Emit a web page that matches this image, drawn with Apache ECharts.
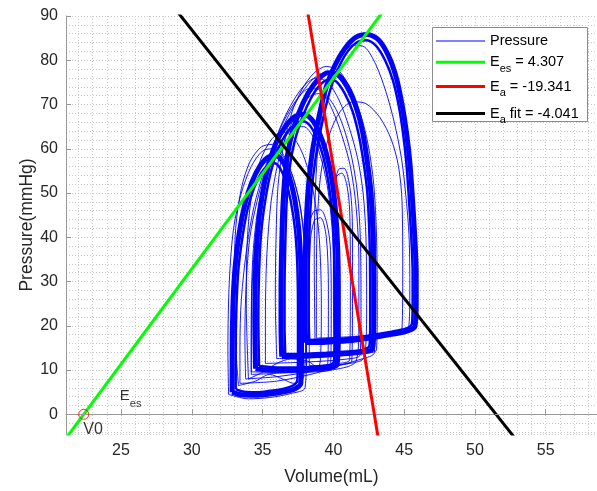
<!DOCTYPE html>
<html><head><meta charset="utf-8">
<script src="https://cdn.jsdelivr.net/npm/echarts@6/dist/echarts.min.js"></script>
<style>html,body{margin:0;padding:0;background:#fff}#c{width:597px;height:491px}</style>
</head><body><div id="c"></div>
<script>
// ---- axis settings ----
const xMin = 21.115, xMax = 58.62;
const yMin = -4.45, yMax = 90;
const xTickLabels = [25, 30, 35, 40, 45, 50, 55];
const yTickLabels = [0, 10, 20, 30, 40, 50, 60, 70, 80, 90];

// ---- main (dense) PV-loop bundles: [Volume mL, Pressure mmHg] ----
const loopF1 = [[38.05,16.2],[39.5,16.3],[41.0,16.6],[42.5,17.2],[44.0,18.0],[45.2,18.8],[45.75,19.8],[45.85,25],[45.85,32],[45.75,40],[45.6,48],[45.4,57],[45.15,64],[44.85,70],[44.45,76],[43.9,81],[43.2,84.6],[42.4,85.8],[41.6,85.2],[40.8,82.6],[40.1,78.8],[39.5,74],[39.0,67.5],[38.5,59],[38.2,50],[38.05,40],[38.0,30],[38.0,22],[38.05,16.2]];
const loopF2 = [[36.35,13.0],[37.5,13.1],[39.0,13.3],[40.5,13.6],[41.8,14.0],[42.75,14.8],[42.85,20],[42.85,30],[42.8,40],[42.65,50],[42.4,57],[42.05,64],[41.6,69.5],[41.0,74],[40.3,76.8],[39.6,77.2],[38.9,75.6],[38.2,72.5],[37.55,68],[37.0,62.5],[36.65,56],[36.45,48],[36.35,38],[36.3,28],[36.3,20],[36.35,13.0]];
const loopF3 = [[34.5,10.3],[35.5,10.0],[37.0,10.0],[38.5,10.2],[39.6,10.5],[40.25,11.2],[40.35,18],[40.35,28],[40.3,38],[40.15,46],[39.9,53],[39.5,59],[39.0,63.7],[38.45,66.7],[37.85,67.8],[37.25,67.2],[36.6,65],[35.95,61.3],[35.4,56],[34.95,49],[34.65,41],[34.5,32],[34.45,22],[34.5,10.3]];
const loopF4 = [[32.85,5.0],[33.5,4.4],[34.5,4.3],[35.5,4.6],[36.5,5.1],[37.3,5.8],[37.7,7.0],[37.75,14],[37.75,24],[37.7,34],[37.55,42],[37.25,49],[36.85,54],[36.4,57.2],[35.9,58.4],[35.35,58.0],[34.8,56],[34.25,52.5],[33.75,47.5],[33.35,41],[33.05,33],[32.9,24],[32.85,14],[32.85,5.0]];
// inner edges of the same bundles
const loopF1i = [[38.3,16.8],[41.0,17.2],[42.5,17.8],[44.0,18.6],[45.15,19.4],[45.55,20.5],[45.6,25],[45.6,32],[45.5,40],[45.35,48],[45.15,57],[44.9,64],[44.6,70],[44.2,75.5],[43.65,80],[43.0,83.3],[42.3,84.5],[41.6,83.9],[40.9,81.5],[40.3,77.8],[39.75,73],[39.25,66.5],[38.75,58],[38.45,50],[38.3,40],[38.25,30],[38.25,22],[38.3,16.8]];
const loopF2i = [[36.6,13.6],[38.0,13.7],[39.5,13.9],[41.0,14.2],[42.1,14.6],[42.55,15.5],[42.6,20],[42.6,30],[42.55,40],[42.4,50],[42.15,56.5],[41.8,63],[41.35,68.5],[40.8,72.5],[40.2,75.2],[39.6,75.6],[39.0,74.2],[38.4,71.3],[37.8,67],[37.25,61.5],[36.9,55.5],[36.7,48],[36.6,38],[36.55,28],[36.55,20],[36.6,13.6]];
const loopF3i = [[34.75,10.9],[36.0,10.6],[37.5,10.6],[38.8,10.8],[39.8,11.2],[40.05,12],[40.1,18],[40.1,28],[40.05,38],[39.9,46],[39.65,52.5],[39.3,58],[38.85,62.3],[38.35,65.2],[37.85,66.2],[37.3,65.6],[36.7,63.6],[36.1,60],[35.6,55],[35.2,48.5],[34.9,41],[34.75,32],[34.7,22],[34.75,10.9]];
const loopF4i = [[33.1,5.7],[33.7,5.1],[34.6,5.0],[35.5,5.3],[36.5,5.8],[37.15,6.5],[37.45,7.6],[37.5,14],[37.5,24],[37.45,34],[37.3,41.5],[37.0,48],[36.65,52.5],[36.25,55.5],[35.85,56.7],[35.4,56.3],[34.9,54.5],[34.4,51.2],[33.95,46.5],[33.6,40.5],[33.3,33],[33.15,24],[33.1,14],[33.1,5.7]];

// ---- sparse (thin) loops ----
const loopT1 = [[38.7,16.8],[41.0,17.2],[43.5,18.2],[45.3,19.3],[45.4,28],[45.35,40],[45.1,50],[44.8,58],[44.3,66],[43.7,73],[43.0,79],[42.2,83.0],[41.4,83.4],[40.6,81.2],[39.9,77],[39.3,70],[38.9,60],[38.7,48],[38.65,35],[38.7,16.8]];
const loopT2 = [[38.8,17.2],[41.5,17.6],[44.0,18.4],[44.85,19.5],[44.9,32],[44.85,48],[44.6,56],[44.1,62],[43.3,67],[42.3,70.2],[41.4,70.6],[40.5,68.5],[39.7,63],[39.1,54],[38.85,42],[38.8,28],[38.8,17.2]];
const loopT3 = [[40.1,11.0],[40.8,11.3],[41.3,12.0],[41.35,25],[41.35,40],[41.3,47],[41.1,52.5],[40.75,55.6],[40.35,55.3],[40.1,51],[40.0,42],[40.0,28],[40.1,11.0]];
const loopT3b = [[40.2,11.5],[41.15,12.3],[41.2,30],[41.15,46],[40.95,51.8],[40.6,54.5],[40.25,53.8],[40.1,49],[40.05,35],[40.2,11.5]];
const loopT4 = [[38.1,10.5],[39.0,10.6],[39.8,11.0],[39.85,25],[39.8,37],[39.55,43],[39.1,46.2],[38.6,45.8],[38.25,42],[38.1,33],[38.05,20],[38.1,10.5]];
const loopT4b = [[38.3,11],[39.6,11.3],[39.65,28],[39.5,40],[39.1,44.4],[38.65,43.8],[38.35,38],[38.3,25],[38.3,11]];
const loopT5 = [[36.0,12.6],[39.0,12.9],[42.0,13.8],[43.05,14.6],[43.1,25],[43.05,40],[42.85,52],[42.45,61],[41.9,68],[41.2,73.5],[40.4,77.6],[39.5,78.6],[38.6,77],[37.8,73.5],[37.1,68.5],[36.5,61],[36.1,52],[35.95,40],[35.9,26],[36.0,12.6]];
const loopT6 = [[34.2,9.6],[37.0,9.4],[39.5,9.8],[40.0,10.5],[40.05,25],[39.95,40],[39.65,50],[39.2,57],[38.6,62.5],[37.9,65],[37.2,64.6],[36.4,62],[35.6,57],[35.0,50],[34.5,40],[34.25,28],[34.2,15],[34.2,9.6]];
const loopT7 = [[32.6,4.5],[34.0,3.5],[35.5,3.8],[37.0,4.7],[38.0,6.0],[38.1,15],[38.1,30],[37.95,40],[37.6,48],[37.1,54],[36.4,58.5],[35.7,60],[35.0,59.5],[34.2,56],[33.5,50],[32.95,42],[32.65,30],[32.55,15],[32.6,4.5]];
const loopT9 = [[35.2,11.5],[38.0,11.8],[41.0,12.5],[41.9,13.5],[41.95,25],[41.9,40],[41.7,50],[41.3,58],[40.7,65],[40.0,70],[39.2,72.5],[38.4,72.0],[37.6,69],[36.8,64],[36.1,57],[35.6,48],[35.3,36],[35.2,22],[35.2,11.5]];
const loopT10 = [[33.3,6.5],[34.5,7.5],[35.5,9.0],[36.4,8.0],[37.2,7.0],[37.9,8.5],[38.05,20],[38.0,35],[37.7,46],[37.2,53],[36.5,58.5],[35.7,61],[34.9,60.4],[34.1,57],[33.5,51],[33.1,42],[33.0,28],[33.1,15],[33.3,6.5]];
const loopT11 = [[34.0,8.0],[35.0,9.5],[36.0,11.5],[37.0,12.5],[38.2,12.0],[38.9,10.5],[39.1,13],[39.15,25],[39.0,40],[38.6,50],[38.0,57.5],[37.2,62.5],[36.4,63.8],[35.6,62],[34.8,57],[34.2,49],[33.9,38],[33.85,25],[34.0,8.0]];
const loopT16 = [[33.8,8],[36,8.5],[39,10],[42,12.5],[42.9,14],[43.0,30],[42.9,45],[42.6,55],[42.1,63],[41.4,70],[40.6,75],[39.8,77.2],[39.0,76.8],[38.2,74.5],[37.4,70.8],[36.6,66],[35.9,61],[35.2,55],[34.6,48],[34.1,40],[33.85,30],[33.75,18],[33.8,8]];
const loopT17 = [[34.2,9],[37,9.5],[40,11],[42.2,13],[42.35,25],[42.3,40],[42.1,50],[41.7,58],[41.1,65],[40.4,71],[39.6,75],[38.8,76],[38.0,74.5],[37.2,71],[36.4,66],[35.7,60],[35.1,53],[34.6,45],[34.3,35],[34.2,22],[34.2,9]];
const loopT18 = [[33.4,7],[36,7.5],[39,9.5],[41.6,12],[41.8,20],[41.8,35],[41.6,47],[41.2,56],[40.6,63],[39.9,69],[39.1,73.2],[38.3,73.6],[37.5,71.5],[36.7,67.5],[35.9,62],[35.1,55],[34.4,47],[33.9,38],[33.5,26],[33.4,15],[33.4,7]];

// ---- fitted lines (end points) ----
const eesLine = [[21.0,-5.9],[43.5,91.0]];
const eaLine = [[38.13,92.0],[43.2,-6.0]];
const eaFitLine = [[29.0,90.9],[53.0,-6.1]];
const v0Point = [[22.37, 0]];
const eesLabelPoint = [[24.95, 4.0]];

const legendNames = {
  'Pressure': '{m|Pressure}',
  'Ees': '{m|E}{s|es}{m| = 4.307}',
  'Ea': '{m|E}{s|a}{m| = -19.341}',
  'EaFit': '{m|E}{s|a}{m| fit = -4.041}'
};

const FONT = '"Liberation Sans", Arial, Helvetica, sans-serif';
const BLUE = '#0000ff';

const thinLoops = [loopT1, loopT2, loopT3, loopT3b, loopT4, loopT4b, loopT5, loopT6, loopT7, loopT9, loopT10, loopT11, loopT16, loopT17, loopT18];
const mainLoops = [loopF1, loopF2, loopF3, loopF4];
const innerLoops = [loopF1i, loopF2i, loopF3i, loopF4i];

const series = [];
thinLoops.forEach(l => series.push({
  name: 'Pressure', type: 'line', data: l, symbol: 'none', smooth: 0.3,
  lineStyle: {color: BLUE, width: 0.9}, itemStyle: {color: BLUE}, silent: true
}));
innerLoops.forEach(l => series.push({
  name: 'Pressure', type: 'line', data: l, symbol: 'none', smooth: 0.3,
  lineStyle: {color: BLUE, width: 2.5}, itemStyle: {color: BLUE}, silent: true
}));
mainLoops.forEach(l => series.push({
  name: 'Pressure', type: 'line', data: l, symbol: 'none', smooth: 0.3,
  lineStyle: {color: BLUE, width: 5}, itemStyle: {color: BLUE}, silent: true
}));
series.push({
  name: 'Ees', type: 'line', data: eesLine, symbol: 'none',
  lineStyle: {color: '#00ff00', width: 3}, itemStyle: {color: '#00ff00'}, silent: true,
  markLine: {silent: true, symbol: 'none', label: {show: false},
    lineStyle: {color: '#9a9a9a', width: 1, type: [8, 5]}, data: [{yAxis: 0}]}
});
series.push({
  name: 'Ea', type: 'line', data: eaLine, symbol: 'none',
  lineStyle: {color: '#ff0000', width: 3}, itemStyle: {color: '#ff0000'}, silent: true
});
series.push({
  name: 'EaFit', type: 'line', data: eaFitLine, symbol: 'none',
  lineStyle: {color: '#000000', width: 3}, itemStyle: {color: '#000000'}, silent: true
});
series.push({
  name: 'V0', type: 'scatter', data: v0Point, symbol: 'circle', symbolSize: 10,
  itemStyle: {color: 'rgba(0,0,0,0)', borderColor: '#ff0000', borderWidth: 1}, silent: true, z: 5,
  label: {show: true, formatter: 'V0', position: [5, 13], align: 'left', verticalAlign: 'top',
    fontSize: 16, color: '#000', fontFamily: FONT}
});
series.push({
  name: 'EesLabel', type: 'scatter', data: eesLabelPoint, symbolSize: 1,
  itemStyle: {color: 'rgba(0,0,0,0)'}, silent: true,
  label: {show: true, position: [0, 0], align: 'left', verticalAlign: 'middle',
    formatter: '{m|E}{s|es}', rich: {
      m: {fontSize: 15, lineHeight: 26, color: '#000', fontFamily: FONT},
      s: {fontSize: 11, lineHeight: 11, verticalAlign: 'bottom', color: '#000', fontFamily: FONT}
    }}
});

const richLegend = {
  m: {fontSize: 14.5, lineHeight: 24, color: '#000', fontFamily: FONT},
  s: {fontSize: 11, lineHeight: 10, verticalAlign: 'bottom', color: '#000', fontFamily: FONT}
};
function mkLegend(name, top, h) {
  return {
    data: [name], left: 436, top: top, orient: 'vertical', itemWidth: 49, itemHeight: h,
    icon: 'rect', padding: 0, selectedMode: false,
    formatter: n => legendNames[n], textStyle: {rich: richLegend}, z: 20
  };
}

const gridLine = {show: true, lineStyle: {color: '#c8c8c8', width: 1, type: [1, 2]}};
const axisCol = '#999999';

const option = {
  animation: false,
  backgroundColor: '#fff',
  grid: {left: 66, right: 0, top: 16, bottom: 55, containLabel: false},
  xAxis: [
    {type: 'value', min: xMin, max: xMax, minInterval: 1, maxInterval: 1,
      axisLine: {show: false}, axisTick: {show: false}, axisLabel: {show: false}, splitLine: gridLine},
    {type: 'value', min: xMin, max: xMax, minInterval: 5, maxInterval: 5, position: 'bottom',
      axisLine: {show: true, lineStyle: {color: axisCol, width: 1}},
      axisTick: {show: true, inside: true, length: 5, lineStyle: {color: axisCol}},
      axisLabel: {show: true, fontSize: 16, color: '#262626', fontFamily: FONT, margin: 9,
        showMinLabel: false, showMaxLabel: false,
        formatter: v => xTickLabels.indexOf(Math.round(v*1000)/1000) >= 0 ? String(v) : ''},
      splitLine: {show: false},
      name: 'Volume(mL)', nameLocation: 'middle', nameGap: 34, nameMoveOverlap: false,
      nameTextStyle: {fontSize: 17.5, color: '#262626', fontFamily: FONT}}
  ],
  yAxis: [
    {type: 'value', min: yMin, max: yMax, minInterval: 2, maxInterval: 2, position: 'left',
      axisLine: {show: false}, axisTick: {show: false}, axisLabel: {show: false}, splitLine: gridLine},
    {type: 'value', min: yMin, max: yMax, minInterval: 10, maxInterval: 10, position: 'left',
      axisLine: {show: true, lineStyle: {color: axisCol, width: 1}},
      axisTick: {show: true, inside: true, length: 5, lineStyle: {color: axisCol}},
      axisLabel: {show: true, fontSize: 16, color: '#262626', fontFamily: FONT, margin: 8,
        showMinLabel: false,
        formatter: v => yTickLabels.indexOf(Math.round(v*1000)/1000) >= 0 ? String(v) : ''},
      splitLine: {show: false},
      name: 'Pressure(mmHg)', nameLocation: 'middle', nameGap: 30, nameRotate: 90, nameMoveOverlap: false,
      nameTextStyle: {fontSize: 17.5, color: '#262626', fontFamily: FONT}}
  ],
  legend: [
    mkLegend('Pressure', 33.5, 1),
    mkLegend('Ees', 54.7, 3),
    mkLegend('Ea', 79, 3),
    mkLegend('EaFit', 106, 3)
  ],
  graphic: [{type: 'rect', left: 432, top: 27, z: 15,
    shape: {width: 155, height: 94}, style: {fill: '#fff', stroke: '#8c8c8c', lineWidth: 1}}],
  series: series.map(s => Object.assign({xAxisIndex: 0, yAxisIndex: 0}, s))
};

const chart = echarts.init(document.getElementById('c'), null, {renderer: 'canvas'});
chart.setOption(option);
</script></body></html>
